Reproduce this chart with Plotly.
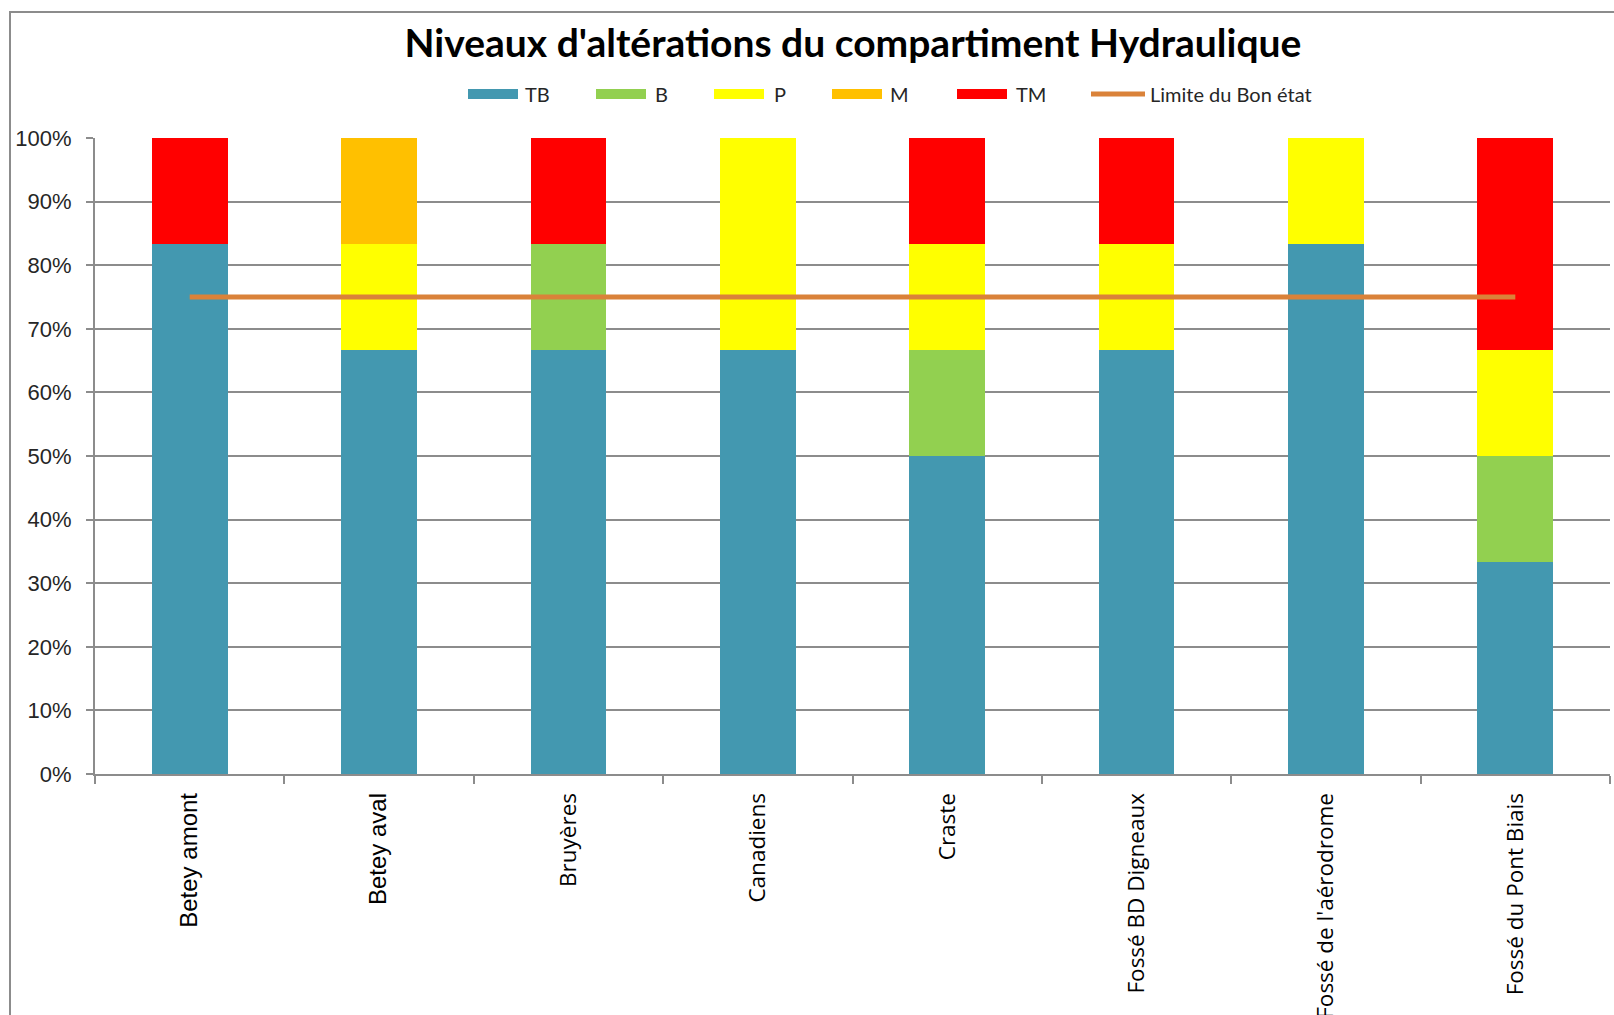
import plotly.graph_objects as go

# Stations (x categories)
stations = ["Betey amont", "Betey aval", "Bruyères", "Canadiens", "Craste",
            "Fossé BD Digneaux", "Fossé de l'aérodrome", "Fossé du Pont Biais"]

# Share of each alteration level per station (%)
tb = [83.33, 66.67, 66.67, 66.67, 50.00, 66.67, 83.33, 33.33]
b = [0, 0, 16.67, 0, 16.67, 0, 0, 16.67]
p = [0, 16.67, 0, 33.33, 16.67, 16.67, 16.67, 16.67]
m = [0, 16.67, 0, 0, 0, 0, 0, 0]
tm = [16.67, 0, 16.67, 0, 16.67, 16.67, 0, 33.33]

# Good-status threshold (%)
limite = [75, 75, 75, 75, 75, 75, 75, 75]

series_names = ["TB", "B", "P", "M", "TM"]
series_values = [tb, b, p, m, tm]
series_colors = ["#4398B0", "#92D050", "#FFFF00", "#FFC000", "#FF0000"]
line_name = "Limite du Bon état"
line_color = "#DA8239"

y_ticks = [0, 10, 20, 30, 40, 50, 60, 70, 80, 90, 100]
y_ticklabels = ["0%", "10%", "20%", "30%", "40%", "50%", "60%", "70%", "80%", "90%", "100%"]

# Station names drawn in the Arial-like face
arial_labels = ["Betey amont", "Betey aval"]

W, H = 1614, 1015
L, R, T, B = 95, 4, 138, 241
PW, PH = W - L - R, H - T - B


def px_x(x):
    return (x - L) / PW


def px_y(y):
    return (H - B - y) / PH


fig = go.Figure()
for name, vals, col in zip(series_names, series_values, series_colors):
    fig.add_trace(go.Bar(x=stations, y=vals, name=name, marker_color=col,
                         marker_line_width=0, showlegend=False))

fig.add_trace(go.Scatter(x=stations, y=limite, mode="lines", name=line_name,
                         line=dict(color=line_color, width=5), showlegend=False))

grid = "#8C8C8C"

ticktext = []
for s in stations:
    if s in arial_labels:
        ticktext.append("<span style='font-family:Liberation Sans;font-size:24px'>%s</span>" % s)
    else:
        ticktext.append(s)

fig.update_layout(
    width=W, height=H,
    margin=dict(l=L, r=R, t=T, b=B, pad=0, autoexpand=False),
    paper_bgcolor="white", plot_bgcolor="white",
    barmode="stack", bargap=0.6,
    showlegend=False,
    title=dict(text="<b>Niveaux d'altérations du compartiment Hydraulique</b>",
               x=px_x(853), xref="paper", xanchor="center",
               y=1 - 43 / H, yanchor="middle", automargin=False,
               font=dict(family="Lato", size=39, color="black")),
    xaxis=dict(type="category", tickmode="array", tickvals=stations, ticktext=ticktext,
               tickangle=-90, tickson="boundaries", ticks="outside", ticklen=8,
               tickwidth=2, tickcolor=grid, showline=True, linecolor=grid, linewidth=2,
               showgrid=False, ticklabelstandoff=8, automargin=False,
               tickfont=dict(family="Open Sans", size=22.5, color="black")),
    yaxis=dict(range=[0, 100], tickmode="array", tickvals=y_ticks, ticktext=y_ticklabels,
               ticks="outside", ticklen=7, tickwidth=2, tickcolor=grid,
               showline=True, linecolor=grid, linewidth=2,
               showgrid=True, gridcolor=grid, gridwidth=2, zeroline=False,
               ticklabelstandoff=10, automargin=False,
               tickfont=dict(family="Liberation Sans", size=22, color="#262626")),
)

# Chart frame (left and top edges visible)
fig.add_shape(type="rect", xref="paper", yref="paper",
              x0=px_x(10), x1=px_x(1640), y0=px_y(1040), y1=px_y(12),
              line=dict(color="#8C8C8C", width=2), fillcolor="rgba(0,0,0,0)", layer="below")

# Legend row
legend_items = [
    ("TB", series_colors[0], 468, 518, 523, "rect"),
    ("B", series_colors[1], 596, 646, 653, "rect"),
    ("P", series_colors[2], 714, 764, 772, "rect"),
    ("M", series_colors[3], 832, 882, 888, "rect"),
    ("TM", series_colors[4], 957, 1007, 1014, "rect"),
    (line_name, line_color, 1091, 1145, 1148, "line"),
]
ly = 94
for label, col, sx0, sx1, tx, kind in legend_items:
    if kind == "rect":
        fig.add_shape(type="rect", xref="paper", yref="paper",
                      x0=px_x(sx0), x1=px_x(sx1), y0=px_y(ly + 5), y1=px_y(ly - 5),
                      fillcolor=col, line=dict(width=0))
    else:
        fig.add_shape(type="line", xref="paper", yref="paper",
                      x0=px_x(sx0), x1=px_x(sx1), y0=px_y(ly), y1=px_y(ly),
                      line=dict(color=col, width=5))
    fig.add_annotation(text=label, xref="paper", yref="paper",
                       x=px_x(tx), y=px_y(ly), xanchor="left", yanchor="middle",
                       showarrow=False, font=dict(family="Lato", size=20, color="#262626"))

fig.write_html("out.html")
